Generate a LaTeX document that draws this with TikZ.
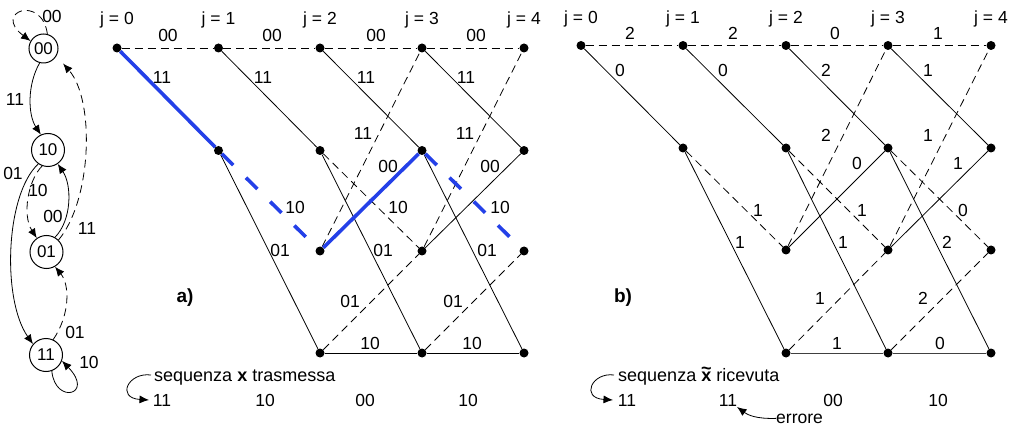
\documentclass[tikz,border=0pt]{standalone}
\usepackage{fontspec}
\setmainfont{Liberation Sans}
\usetikzlibrary{arrows.meta}
\definecolor{pathblue}{RGB}{36,64,232}
\newcommand{\xtilde}{\mbox{\textbf{x}\llap{\makebox[0.556em]{\raisebox{0.36em}{\textbf{\textasciitilde}}}}}}
\begin{document}
\begin{tikzpicture}[x=1pt,y=-1pt,
  txt/.style={inner sep=0pt,font=\fontsize{17.5}{20}\selectfont},
  ttl/.style={inner sep=0pt,font=\fontsize{19}{22}\selectfont\bfseries},
  dot/.style={circle,fill=black,inner sep=0pt,minimum size=9pt},
  dline/.style={line width=0.8pt,dash pattern=on 8pt off 5pt},
  sline/.style={line width=0.8pt},
  hline/.style={line width=1pt,draw=black!75},
  bsolid/.style={line width=3.6pt,draw=pathblue},
  bdash/.style={line width=3.6pt,draw=pathblue,dash pattern=on 16pt off 18pt},
  state/.style={circle,draw,line width=1pt,inner sep=0pt,minimum size=33pt,font=\fontsize{17}{20}\selectfont},
  arr/.style={-{Latex[length=9.5pt,width=8pt]}},
]
\useasboundingbox (0,0) rectangle (1016,427);

% ---------------- state diagram ----------------
\node[state,minimum size=29pt] (s00) at (43.5,48.5) {00};
\node[state] (s10) at (48,150) {10};
\node[state] (s01) at (46.5,252) {01};
\node[state] (s11) at (46,355) {11};

\draw[dline,arr] (s00.75) .. controls (42,-6) and (-8,12) .. (s00.150);
\draw[sline,arr] (s00.255) .. controls (27,85) and (28,115) .. (s10.115);
\draw[sline,arr] (s10.235) .. controls (5,195) and (2,300) .. (s11.140);
\draw[dline,arr] (s10.250) .. controls (28,180) and (22,215) .. (s01.125);
\draw[sline,arr] (s01.60) .. controls (72,220) and (72,185) .. (s10.-55);
\draw[dline,arr,shorten >=10pt] (s01.45) .. controls (92,200) and (95,100) .. (s00.-30);
\draw[dline,arr] (s11.65) .. controls (70,315) and (70,285) .. (s01.-60);
\draw[sline,arr] (s11.-70) .. controls (55,405) and (95,395) .. (s11.-20);

\node[txt] (ls1) at (52,16) {00};
\node[txt] (ls2) at (15,99) {11};
\node[txt] (ls3) at (13,173) {01};
\node[txt] (ls4) at (38,190) {10};
\node[txt] (ls5) at (53,216) {00};
\node[txt] (ls6) at (87,228) {11};
\node[txt] (ls7) at (75,332) {01};
\node[txt] (ls8) at (89,362) {10};

% ---------------- trellis a ----------------
\foreach \c/\x in {0/117,1/218.5,2/320,3/422,4/524}{
  \node[dot] (a\c1) at (\x,48) {};
  \node[txt,anchor=base] (ja\c) at (\x,25) {j = \c};
}
\foreach \c/\x in {1/218.5,2/320,3/422,4/524} \node[dot] (a\c2) at (\x,150.5) {};
\foreach \c/\x in {2/320,3/422,4/524}{
  \node[dot] (a\c3) at (\x,251) {};
  \node[dot] (a\c4) at (\x,353) {};
}
\foreach \u/\v in {a01/a11,a11/a21,a21/a31,a31/a41,a22/a33,a23/a31,a33/a41,a24/a33,a34/a43}
  \draw[dline] (\u) -- (\v);
\foreach \u/\v in {a11/a22,a21/a32,a31/a42,a12/a24,a22/a34,a32/a44,a33/a42}
  \draw[sline] (\u) -- (\v);
\foreach \u/\v in {a24/a34,a34/a44}
  \draw[sline] (\u) -- (\v);
\draw[bsolid] (a01) -- (a12);
\draw[bdash] (a12) -- (a23);
\draw[bsolid] (a23) -- (a32);
\draw[bdash] (a32) -- (a43);

\foreach \t/\x/\y [count=\i] in {
  00/168/35, 00/272/35, 00/376/35, 00/476/35,
  11/162/77, 11/263/77, 11/366/77, 11/466/77,
  11/363/133, 11/465/133,
  00/388/166, 00/490/166,
  10/295/207, 10/398/207, 10/500/207,
  01/280/250, 01/383/250, 01/487/250,
  01/350/301, 01/453/301,
  10/370/343, 10/472/343}
  \node[txt] (la\i) at (\x,\y) {\t};
\node[ttl] (ta) at (185,298) {a)};

\node[txt,anchor=base west,font=\fontsize{18}{20}\selectfont] (sqa) at (154,381) {sequenza \textbf{x} trasmessa};
\foreach \t/\x [count=\i] in {11/162,10/265,00/365,10/468}
  \node[txt] (xa\i) at (\x,400) {\t};
\coordinate (sqa0) at (151,375);
\coordinate (sqa1) at (149,400);
\draw[sline,arr] (sqa0) .. controls (128,372) and (116,398) .. (sqa1);

% ---------------- trellis b ----------------
\foreach \c/\x in {0/581,1/683,2/786,3/888,4/991}{
  \node[dot] (b\c1) at (\x,45.5) {};
  \node[txt,anchor=base] (jb\c) at (\x,24) {j = \c};
}
\foreach \c/\x in {1/683,2/786,3/888,4/991} \node[dot] (b\c2) at (\x,148) {};
\foreach \c/\x in {2/786,3/888,4/991}{
  \node[dot] (b\c3) at (\x,250) {};
  \node[dot] (b\c4) at (\x,353) {};
}
\foreach \u/\v in {b01/b11,b11/b21,b21/b31,b31/b41,b12/b23,b22/b33,b32/b43,b23/b31,b33/b41,b24/b33,b34/b43}
  \draw[dline] (\u) -- (\v);
\foreach \u/\v in {b01/b12,b11/b22,b21/b32,b31/b42,b12/b24,b22/b34,b32/b44,b23/b32,b33/b42}
  \draw[sline] (\u) -- (\v);
\foreach \u/\v in {b24/b34,b34/b44}
  \draw[hline] (\u) -- (\v);

\foreach \t/\x/\y [count=\i] in {
  2/630/33, 2/733/33, 0/835/33, 1/938/33,
  0/620/70, 0/723/70, 2/826/70, 1/928/70,
  2/826/135, 1/928/135,
  0/857/163, 1/958/163,
  1/758/210, 1/862/210, 0/963/210,
  1/740/242, 1/843/242, 2/947/242,
  1/820/298, 2/923/298,
  1/837/343, 0/940/343}
  \node[txt] (lb\i) at (\x,\y) {\t};
\node[ttl] (tb) at (623,298) {b)};

\node[txt,anchor=base west,font=\fontsize{18}{20}\selectfont] (sqb) at (618,381) {sequenza \xtilde{} ricevuta};
\foreach \t/\x [count=\i] in {11/627,11/728,00/833,10/938}
  \node[txt] (xb\i) at (\x,400) {\t};
\coordinate (sqb0) at (614,375);
\coordinate (sqb1) at (613,400);
\draw[sline,arr] (sqb0) .. controls (592,372) and (580,398) .. (sqb1);

\node[txt,anchor=base west] (err) at (776,423) {errore};
\coordinate (err1) at (737,407);
\draw[sline,arr] (err.west) .. controls (756,419) and (748,415) .. (err1);
\end{tikzpicture}
\end{document}
